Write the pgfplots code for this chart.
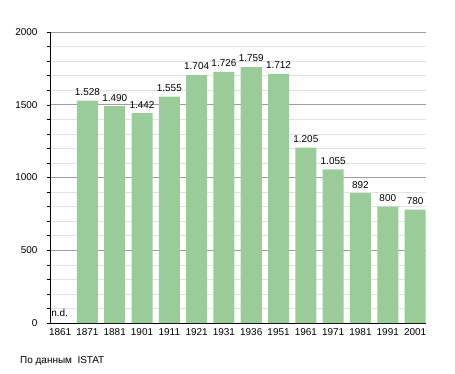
\documentclass[border=0pt]{standalone}
\usepackage{fontspec}
\setmainfont{Liberation Sans}
\usepackage{pgfplots}
\pgfplotsset{compat=1.18}
\definecolor{barra}{rgb}{0.6,0.8,0.6}
\begin{document}
\begin{tikzpicture}[x=1bp,y=1bp]
\useasboundingbox (0,0) rectangle (455,373);
\begin{axis}[
  at={(50bp,50bp)}, anchor=south west,
  scale only axis, width=376bp, height=291bp,
  xmin=-0.37, xmax=13.4, ymin=0, ymax=2000,
  axis x line*=bottom, axis y line*=left,
  axis line style={-, black, line width=0.8pt},
  xtick={0,...,13},
  xticklabels={1861,1871,1881,1901,1911,1921,1931,1936,1951,1961,1971,1981,1991,2001},
  x tick style={draw=none},
  ytick={0,500,1000,1500,2000},
  minor y tick num=4,
  tick align=outside, ytick pos=left,
  major tick length=3bp, minor tick length=3bp,
  y tick style={black, line width=0.5pt},
  ymajorgrids, yminorgrids,
  major grid style={color=black!38, line width=0.6pt},
  minor grid style={color=black!11, line width=0.6pt},
  tick label style={font=\fontsize{10}{12}\selectfont},
  xticklabel style={yshift=1bp},
  yticklabel style={xshift=-6bp},
  /pgf/number format/assume math mode=true,
  /pgf/number format/1000 sep={},
  ybar, bar width=0.77, bar shift=0,
  nodes near coords={\pgfmathprintnumber[1000 sep={.}]{\pgfplotspointmeta}},
  every node near coord/.append style={font=\fontsize{10}{12}\selectfont, yshift=1.5bp},
  clip=false,
]
\addplot[fill=barra, draw=none] coordinates {
(1,1528) (2,1490) (3,1442) (4,1555) (5,1704) (6,1726) (7,1759) (8,1712)
(9,1205) (10,1055) (11,892) (12,800) (13,780)};
\node[anchor=south west, inner sep=0pt, font=\fontsize{10}{12}\selectfont] at (axis cs:-0.33,45) {n.d.};
\end{axis}
\node[anchor=west, inner sep=0pt, font=\fontsize{10}{12}\selectfont] at (20,12) {По данным\ \ ISTAT};
\end{tikzpicture}
\end{document}
